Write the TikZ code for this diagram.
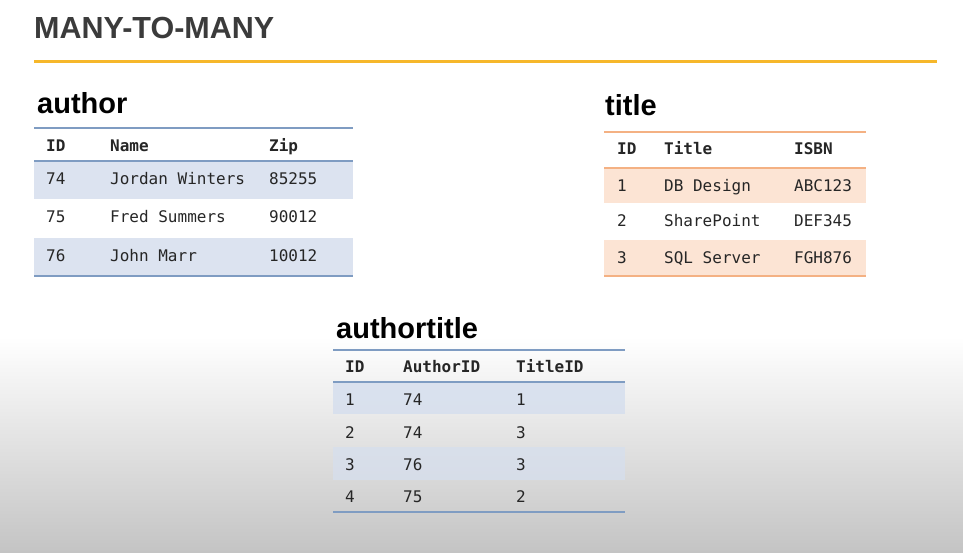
\documentclass[tikz,border=0pt]{standalone}
\usepackage{fontspec}
\setmainfont{Liberation Sans}
\setmonofont{DejaVu Sans Mono}
\definecolor{titlegrey}{HTML}{3B3B3B}
\definecolor{accent}{HTML}{F6B72A}
\definecolor{blueline}{HTML}{7F9CC2}
\definecolor{bluefill}{HTML}{D6DFEE}
\definecolor{orangeline}{HTML}{F4B183}
\definecolor{orangefill}{HTML}{FCE4D4}
\definecolor{celltext}{HTML}{262626}
\definecolor{bggrey}{HTML}{C4C4C4}
\tikzset{
  heading/.style={anchor=base west, inner sep=0pt, font=\fontsize{29}{32}\selectfont\bfseries, text=black},
  cell/.style={anchor=base west, inner sep=0pt, font=\fontsize{16}{18}\selectfont\ttfamily, text=celltext},
  hcell/.style={cell, font=\fontsize{16}{18}\selectfont\ttfamily\bfseries},
  bline/.style={draw=blueline, line width=2pt},
  oline/.style={draw=orangeline, line width=2pt},
  brow/.style={fill=bluefill, fill opacity=0.85},
  orow/.style={fill=orangefill},
}
\begin{document}
\begin{tikzpicture}[x=1pt,y=-1pt]
\useasboundingbox (0,0) rectangle (963,552);
% background
\fill[white] (0,0) rectangle (963,338);
\shade[top color=white, bottom color=bggrey] (0,337) rectangle (963,552);
% title
\node[anchor=base west, inner sep=0pt, font=\fontsize{30.5}{32}\selectfont\bfseries, text=titlegrey] (maintitle) at (34,38) {MANY-TO-MANY};
\draw[accent, line width=3pt] (34,61.5) -- (937,61.5);

% ---- author table ----
\node[heading] (hauthor) at (37,113) {author};
\fill[brow] (34,161) rectangle (353,199);
\fill[brow] (34,238) rectangle (353,276);
\draw[bline] (34,128) -- (353,128);
\draw[bline] (34,161) -- (353,161);
\draw[bline] (34,276) -- (353,276);
\node[hcell] (a-h1) at (46,151) {ID};
\node[hcell] (a-h2) at (110,151) {Name};
\node[hcell] (a-h3) at (269,151) {Zip};
\node[cell] (a-11) at (46,184) {74};
\node[cell] (a-12) at (110,184) {Jordan Winters};
\node[cell] (a-13) at (269,184) {85255};
\node[cell] (a-21) at (46,222) {75};
\node[cell] (a-22) at (110,222) {Fred Summers};
\node[cell] (a-23) at (269,222) {90012};
\node[cell] (a-31) at (46,261) {76};
\node[cell] (a-32) at (110,261) {John Marr};
\node[cell] (a-33) at (269,261) {10012};

% ---- title table ----
\node[heading] (htitle) at (605,115) {title};
\fill[orow] (604,168) rectangle (866,203);
\fill[orow] (604,240) rectangle (866,276);
\draw[oline] (604,132) -- (866,132);
\draw[oline] (604,168) -- (866,168);
\draw[oline] (604,276) -- (866,276);
\node[hcell] (t-h1) at (617,154) {ID};
\node[hcell] (t-h2) at (664,154) {Title};
\node[hcell] (t-h3) at (794,154) {ISBN};
\node[cell] (t-11) at (617,191) {1};
\node[cell] (t-12) at (664,191) {DB Design};
\node[cell] (t-13) at (794,191) {ABC123};
\node[cell] (t-21) at (617,226) {2};
\node[cell] (t-22) at (664,226) {SharePoint};
\node[cell] (t-23) at (794,226) {DEF345};
\node[cell] (t-31) at (617,263) {3};
\node[cell] (t-32) at (664,263) {SQL Server};
\node[cell] (t-33) at (794,263) {FGH876};

% ---- authortitle table ----
\node[heading] (hat) at (336,338) {authortitle};
\fill[brow] (333,382) rectangle (625,414);
\fill[brow, fill opacity=0.75] (333,447) rectangle (625,480);
\draw[bline] (333,350) -- (625,350);
\draw[bline] (333,382) -- (625,382);
\draw[bline] (333,512) -- (625,512);
\node[hcell] (at-h1) at (345,372) {ID};
\node[hcell] (at-h2) at (403,372) {AuthorID};
\node[hcell] (at-h3) at (516,372) {TitleID};
\node[cell] (at-11) at (345,405) {1};
\node[cell] (at-12) at (403,405) {74};
\node[cell] (at-13) at (516,405) {1};
\node[cell] (at-21) at (345,438) {2};
\node[cell] (at-22) at (403,438) {74};
\node[cell] (at-23) at (516,438) {3};
\node[cell] (at-31) at (345,470) {3};
\node[cell] (at-32) at (403,470) {76};
\node[cell] (at-33) at (516,470) {3};
\node[cell] (at-41) at (345,502) {4};
\node[cell] (at-42) at (403,502) {75};
\node[cell] (at-43) at (516,502) {2};
\end{tikzpicture}
\end{document}
